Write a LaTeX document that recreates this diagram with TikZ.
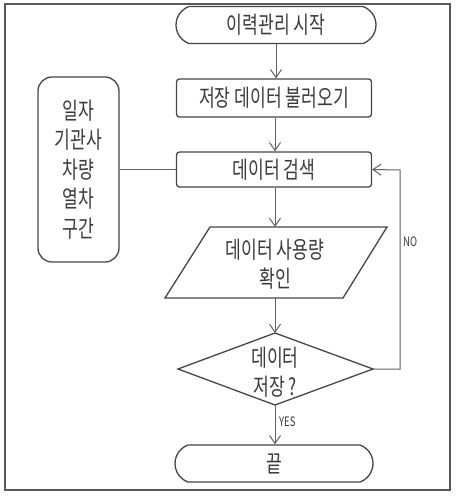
\documentclass[tikz,border=0pt]{standalone}
\usepackage{fontspec}
\usetikzlibrary{arrows.meta,shapes.misc}
\newfontfamily\kr{Noto Sans CJK KR}[FakeStretch=0.73]
\definecolor{ln}{HTML}{454545}
\definecolor{tx}{HTML}{3A3A3A}
\begin{document}
\begin{tikzpicture}[x=1pt,y=-1pt,
  every node/.style={text=tx},
  base/.style={draw=ln,line width=1.3pt,inner sep=0pt,font=\kr\fontsize{23.5}{29}\selectfont,align=center},
  term/.style={base,rounded rectangle,rounded rectangle arc length=140,minimum width=#1,minimum height=37pt},
  procbox/.style={base,rectangle,rounded corners=3pt,minimum width=195pt,minimum height=#1},
  plain/.style={inner sep=0pt,font=\kr\fontsize{23.5}{29}\selectfont,align=center},
  arr/.style={draw=ln!85,line width=1pt,-{Straight Barb[length=8pt,width=11pt]}},
  con/.style={draw=ln!85,line width=1pt},
  small/.style={inner sep=0pt,font=\kr\fontsize{13}{13}\selectfont}]
\useasboundingbox (0,0) rectangle (460,499);
\draw[ln!90,line width=1.2pt] (5,4) rectangle (450,490);
% nodes
\node[term=200pt] (start) at (276,25) {이력관리 시작};
\node[procbox=38pt] (load) at (274,98) {저장 데이터 불러오기};
\node[procbox=35pt] (search) at (274,169.5) {데이터 검색};
\node[base,rectangle,rounded corners=14pt,minimum width=81pt,minimum height=185pt,font=\kr\fontsize{23.5}{29.5}\selectfont] (keys) at (78.5,169.5) {일자\\기관사\\차량\\열차\\구간};
% parallelogram
\coordinate (ptl) at (210,227);
\coordinate (ptr) at (387,227);
\coordinate (pbr) at (343,298);
\coordinate (pbl) at (165,298);
\draw[ln,line width=1.3pt] (ptl) -- (ptr) -- (pbr) -- (pbl) -- cycle;
\node[plain] (pdata) at (275,264) {데이터 사용량\\확인};
\coordinate (ptop) at (275,227);
\coordinate (pbot) at (275,298);
% diamond
\coordinate (dt) at (275,333);
\coordinate (dr) at (373,369);
\coordinate (db) at (275,405);
\coordinate (dl) at (178,369);
\draw[ln,line width=1.3pt] (dt) -- (dr) -- (db) -- (dl) -- cycle;
\node[plain] (dec) at (275,372) {데이터\\저장 ?};
\node[term=198pt] (end) at (274,463.5) {끝};
% connectors
\draw[arr] (start.south -| 276,0) -- (load.north -| 276,0);
\draw[arr] (load.south -| 275,0) -- (search.north -| 275,0);
\draw[arr] (search.south -| 275,0) -- (ptop);
\draw[arr] (pbot) -- (dt);
\draw[arr] (db) -- (end.north -| 275,0);
\draw[con] (keys.east) -- (search.west);
\coordinate (nc) at (400,369);
\coordinate (nt) at (400,170);
\draw[arr] (dr) -- (nc) -- (nt) -- (search.east);
\node[small,anchor=west] (no) at (403,242) {NO};
\node[small,anchor=west] (yes) at (279,422) {YES};
\end{tikzpicture}
\end{document}
